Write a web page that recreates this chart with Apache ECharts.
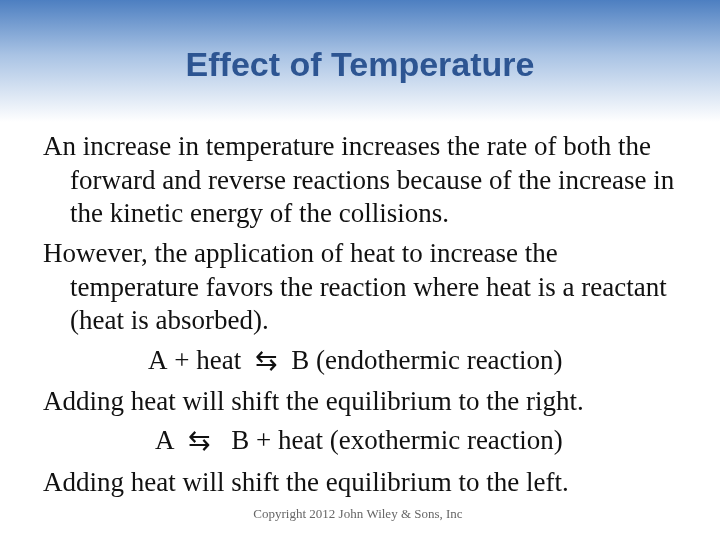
<!DOCTYPE html>
<html>
<head>
<meta charset="utf-8">
<script src="https://cdn.jsdelivr.net/npm/echarts@6/dist/echarts.min.js"></script>
<style>html,body{margin:0;padding:0;background:#fff}#main{width:720px;height:540px}</style>
</head>
<body>
<div id="main"></div>
<script>
var title='Effect of Temperature';
// body lines: text, left x, centre y
var lineTexts=[
	'An increase in temperature increases the rate of both the',
	'forward and reverse reactions because of the increase in',
	'the kinetic energy of the collisions.',
	'However, the application of heat to increase the',
	'temperature favors the reaction where heat is a reactant',
	'(heat is absorbed).',
	'A + heat  \u21C6  B (endothermic reaction)',
	'Adding heat will shift the equilibrium to the right.',
	'A  \u21C6   B + heat (exothermic reaction)',
	'Adding heat will shift the equilibrium to the left.'
];
var lineX=[43,70,70,43,70,70,148,43,155,43];
var lineY=[148,182,215,255,289,322,362,403,442,484];
var copyright='Copyright 2012 John Wiley & Sons, Inc';

var myChart=echarts.init(document.getElementById('main'));
var elements=[{
	type:'rect',
	shape:{x:0,y:0,width:720,height:122},
	style:{fill:new echarts.graphic.LinearGradient(0,0,0,1,[
		{offset:0,color:'#4d7fc1'},
		{offset:0.45,color:'#a9c3e4'},
		{offset:1,color:'#ffffff'}
	])}
},{
	type:'text',
	x:360,y:67,
	style:{text:title,fill:'#2d5592',font:'bold 34px "Liberation Sans", Arial',align:'center',verticalAlign:'middle'}
},{
	type:'text',
	x:358,y:515,
	style:{text:copyright,fill:'#666',font:'13px "Liberation Serif", serif',align:'center',verticalAlign:'middle'}
}];
lineTexts.forEach(function(t,i){
	elements.push({
		type:'text',
		x:lineX[i],y:lineY[i],
		style:{text:t,fill:'#111',font:'27px "Liberation Serif", serif',verticalAlign:'middle'}
	});
});
myChart.setOption({graphic:{elements:elements}});
</script>
</body>
</html>
